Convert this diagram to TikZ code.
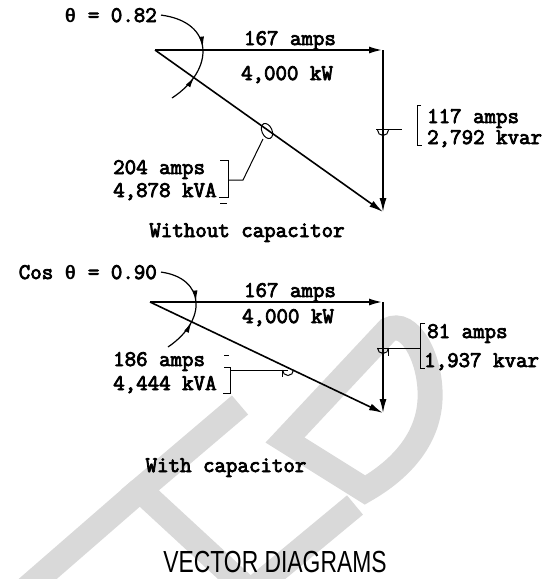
\documentclass[tikz,border=0pt]{standalone}
\usepackage{fontspec}
\newfontfamily\tw[FakeBold=3.5]{Latin Modern Mono}
\newfontfamily\twg{Liberation Mono}
\newfontfamily\capfont{Liberation Sans}
\newcommand{\thchar}{{\twg\bfseries\fontsize{19.5}{22}\selectfont θ}}
\usetikzlibrary{arrows.meta,decorations.markings}
\definecolor{wm}{RGB}{217,217,217}
\tikzset{
  lab/.style={inner sep=0pt, font=\tw\fontsize{22.3}{24}\selectfont},
  vec/.style={line width=1.6pt},
  hvec/.style={line width=2.2pt},
  tipv/.style={-{Latex[length=14pt,width=7pt]}},
  fine/.style={line width=1pt},
  wmark/.style={draw=wm, line width=25pt, line join=miter},
  angarc/.style 2 args={line width=1.2pt, postaction={decorate},
    decoration={markings,
      mark=at position #1 with {\arrow{Latex[length=11pt,width=5pt]}},
      mark=at position #2 with {\arrowreversed{Latex[length=11pt,width=5pt]}}}},
}
\begin{document}
\begin{tikzpicture}[x=1pt,y=-1pt]
\useasboundingbox (0,0) rectangle (554,579);
% watermark
\begin{scope}
\clip (0,0) rectangle (554,579);
\draw[wmark] (240,405) -- (140,490) -- (270,610);
\draw[wmark] (140,490) -- (25,590);
\draw[wmark] (250,592) -- (355,505);
\draw[wmark] (285,440) -- (388,330) .. controls (410,318) and (432,360) .. (430,400)
   .. controls (428,440) and (400,470) .. (365,490) -- cycle;
\end{scope}

% ---------- top diagram ----------
\coordinate (A1) at (155,50);
\coordinate (B1) at (383,50);
\coordinate (C1) at (383,212);
\draw[hvec,tipv] (A1) -- (B1);
\draw[vec,tipv] (B1) -- (C1);
\draw[vec,tipv] (A1) -- (C1);

\node[lab,anchor=base east] (th1) at (157,22) {\thchar{} = 0.82};
\node[lab,anchor=base] (kw1a) at (290,45) {167 amps};
\node[lab,anchor=base] (kw1b) at (287,80) {4,000 kW};
\node[lab,anchor=base west] (va1a) at (113,174) {204 amps};
\node[lab,anchor=base west] (va1b) at (113,197) {4,878 kVA};
\node[lab,anchor=base west] (kv1a) at (427,123) {117 amps};
\node[lab,anchor=base west] (kv1b) at (427,144) {2,792 kvar};
\node[lab,anchor=base] (cap1) at (247,237) {Without capacitor};

\coordinate (arc1e) at (172,98);
\draw[angarc={0.48}{0.74}] ([xshift=4pt]th1.east) .. controls (215,22) and (215,70) .. (arc1e);

% kvar marker (top)
\coordinate (m1) at (383,129);
\coordinate (m1r) at (402,129);
\draw[fine] (377.5,130) arc[start angle=180,end angle=0,radius=5.5];
\draw[fine] (376,129) -- (m1r);
\draw[fine] (421,105) -- (417,105) -- (417,145) -- (422,145);
% kVA marker (top)
\coordinate (m2) at (267,131);
\coordinate (m2a) at (243,180);
\coordinate (m2b) at (228,180);
\draw[fine] (m2) ellipse[x radius=5, y radius=8, rotate=25];
\draw[fine] (263,139) -- (m2a) -- (m2b);
\draw[fine] (220,160) -- (228,160) -- (228,197) -- (219,197);
\draw[fine] (220,203) -- (227,203);

% ---------- bottom diagram ----------
\coordinate (A2) at (150,302);
\coordinate (B2) at (383,302);
\coordinate (C2) at (383,413);
\draw[hvec,tipv] (A2) -- (B2);
\draw[vec,tipv] (B2) -- (C2);
\draw[vec,tipv] (A2) -- (C2);

\node[lab,anchor=base east] (th2) at (157,279) {Cos \thchar{} = 0.90};
\node[lab,anchor=base] (kw2a) at (290,297) {167 amps};
\node[lab,anchor=base] (kw2b) at (288,323) {4,000 kW};
\node[lab,anchor=base west] (va2a) at (113,366) {186 amps};
\node[lab,anchor=base west] (va2b) at (113,390) {4,444 kVA};
\node[lab,anchor=base west] (kv2a) at (427,338) {81 amps};
\node[lab,anchor=base west] (kv2b) at (424,367) {1,937 kvar};
\node[lab,anchor=base] (cap2) at (226,472) {With capacitor};

\coordinate (arc2e) at (168,347);
\draw[angarc={0.47}{0.67}] ([xshift=4pt]th2.east) .. controls (205,278) and (208,320) .. (arc2e);

% kvar marker (bottom)
\coordinate (m3r) at (420,348);
\draw[fine] (377.5,348) arc[start angle=180,end angle=0,radius=5.5];
\draw[fine] (377,348) -- (m3r);
\draw[fine] (388,348) -- (388,356);
\draw[fine] (425,323) -- (420,323) -- (420,368) -- (425,368);
% kVA marker (bottom)
\coordinate (m4) at (288,370);
\coordinate (m4b) at (230,370);
\draw[fine] (282.5,370) arc[start angle=180,end angle=0,radius=5.5];
\draw[fine] (m4) -- (m4b);
\draw[fine] (282,370) -- (282,377);
\draw[fine] (224,367) -- (230,367) -- (230,393) -- (223,393);
\draw[fine] (224,355) -- (229,355);

% title
\node[inner sep=0pt, anchor=base] (title) at (275,572)
  {\capfont\fontsize{30.5}{34}\selectfont\scalebox{0.75}[1]{VECTOR DIAGRAMS}};
\end{tikzpicture}
\end{document}
